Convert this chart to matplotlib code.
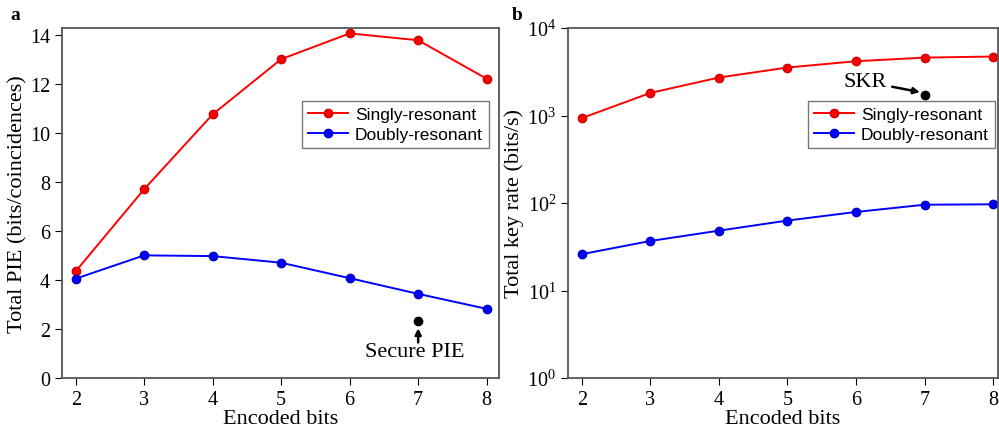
import numpy as np
import matplotlib
matplotlib.use("Agg")
import matplotlib.pyplot as plt

plt.rcParams['font.family'] = ['Liberation Serif', 'DejaVu Serif']
plt.rcParams['mathtext.fontset'] = 'stix'

# data
bits = [2, 3, 4, 5, 6, 7, 8]
pie_single = [4.35, 7.7, 10.75, 13.0, 14.05, 13.77, 12.2]
pie_double = [4.05, 5.0, 4.97, 4.7, 4.07, 3.43, 2.82]
rate_single = [933, 1810, 2716, 3535, 4170, 4590, 4720]
rate_double = [26, 36.8, 48.3, 63, 79, 95.6, 96.6]
secure_pie = (7, 2.32)
skr = (7, 1720)

fig = plt.figure(figsize=(9.99, 4.31), dpi=100)
ax1 = fig.add_axes([62/999, 1-379/431, 437/999, 350/431])
ax2 = fig.add_axes([568/999, 1-379/431, 430/999, 350/431])

spine_col = '#555555'
for ax in (ax1, ax2):
    for s in ax.spines.values():
        s.set_color(spine_col)
        s.set_linewidth(1.3)
    ax.tick_params(direction='out', labelsize=14.5, length=5, color='black',
                   top=False, right=False)
    ax.set_xticks(bits)
    ax.set_xlabel('Encoded bits', fontsize=16, labelpad=0)

mk = dict(marker='o', markersize=6, linewidth=1.4)
leg_kw = dict(loc='upper left', prop={'family': 'Liberation Sans', 'size': 12.5},
              fancybox=False, edgecolor='#555555', handlelength=2.3,
              borderpad=0.35, labelspacing=0.25, handletextpad=0.4,
              borderaxespad=0)

ax1.plot(bits, pie_single, color='#ff0000', markeredgecolor='#d00000',
         label='Singly-resonant', **mk)
ax1.plot(bits, pie_double, color='#0000ff', markeredgecolor='#0000c0',
         label='Doubly-resonant', **mk)
ax1.set_xlim(1.8, 8.18)
ax1.set_ylim(0, 14.27)
ax1.set_yticks(range(0, 15, 2))
ax1.set_ylabel('Total PIE (bits/coincidences)', fontsize=16, labelpad=2)
ax1.plot(*secure_pie, 'o', color='black', markersize=6)
ax1.annotate('', xy=(secure_pie[0], 2.03), xytext=(secure_pie[0], 1.45),
             arrowprops=dict(arrowstyle='-|>', color='black', lw=1.8,
                             mutation_scale=9, shrinkA=0, shrinkB=0))
ax1.text(6.95, 1.07, 'Secure PIE', ha='center', va='center', fontsize=16)
leg1 = ax1.legend(bbox_to_anchor=(0.549, 0.791), **leg_kw)
leg1.get_frame().set_linewidth(1.0)

ax2.plot(bits, rate_single, color='#ff0000', markeredgecolor='#d00000',
         label='Singly-resonant', **mk)
ax2.plot(bits, rate_double, color='#0000ff', markeredgecolor='#0000c0',
         label='Doubly-resonant', **mk)
ax2.set_yscale('log')
ax2.set_ylim(1, 1e4)
ax2.set_xlim(1.8, 8.07)
ax2.yaxis.set_minor_locator(matplotlib.ticker.NullLocator())
ax2.set_ylabel('Total key rate (bits/s)', fontsize=16, labelpad=2)
ax2.plot(*skr, 'o', color='black', markersize=6)
ax2.annotate('SKR', xy=(6.93, 1850), xytext=(6.13, 2450),
             ha='center', va='center', fontsize=16,
             arrowprops=dict(arrowstyle='-|>', color='black', lw=1.8,
                             mutation_scale=9, shrinkA=2, shrinkB=0))
leg2 = ax2.legend(bbox_to_anchor=(0.558, 0.791), **leg_kw)
leg2.get_frame().set_linewidth(1.0)

fig.text(10/999, 1-15/431, 'a', fontsize=14, fontweight='bold', va='center')
fig.text(512/999, 1-15/431, 'b', fontsize=14, fontweight='bold', va='center')

fig.savefig('out.png', dpi=100)
